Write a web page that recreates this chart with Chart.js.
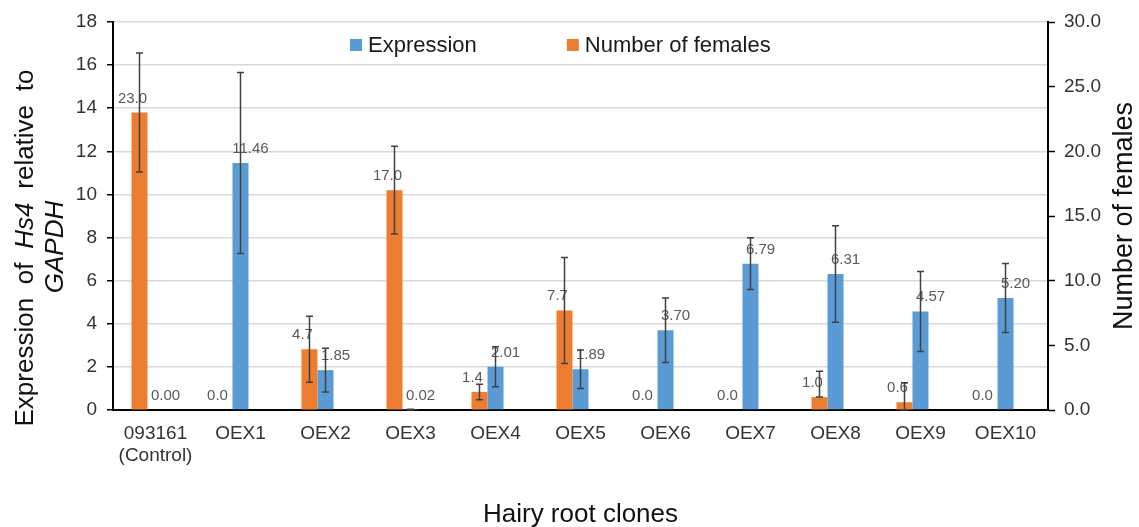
<!DOCTYPE html>
<html>
<head>
<meta charset="utf-8">
<title>Hs4 expression and number of females</title>
<script src="https://cdn.jsdelivr.net/npm/chart.js"></script>
<style>
    body { margin: 0; background: #fff; }
    #wrap { width: 1139px; height: 527px; }
</style>
</head>
<body>
<div id="wrap"><canvas id="myChart"></canvas></div>
<script>
// data
var clones = [['093161', '(Control)'], 'OEX1', 'OEX2', 'OEX3', 'OEX4', 'OEX5', 'OEX6', 'OEX7', 'OEX8', 'OEX9', 'OEX10'];
var expression = [0.00, 11.46, 1.85, 0.02, 2.01, 1.89, 3.70, 6.79, 6.31, 4.57, 5.20];
var expressionErr = [0, 4.2, 1.02, 0.02, 0.93, 0.89, 1.5, 1.2, 2.24, 1.86, 1.6];
var females = [23.0, 0.0, 4.7, 17.0, 1.4, 7.7, 0.0, 0.0, 1.0, 0.6, 0.0];
var femalesErrUp = [4.6, 0, 2.55, 3.4, 0.6, 4.1, 0, 0, 2.0, 1.5, 0];
var femalesErrDown = [4.6, 0, 2.55, 3.4, 0.6, 4.1, 0, 0, 0, 0.6, 0];
var exprAxisMax = 18, exprStep = 2;
var femAxisMax = 30, femStep = 5;

var FONT = "'Liberation Sans', Arial, sans-serif";
var BLUE = '#5B9BD5', ORANGE = '#ED7D31';

// labels, error bars, legend and the axis titles (left one has italics)
var extras = {
    id: 'extras',
    afterDatasetsDraw: function(chart) {
        var ctx = chart.ctx;
        ctx.save();
        [0, 1].forEach(function(di) {
            var ds = chart.data.datasets[di];
            var meta = chart.getDatasetMeta(di);
            var scale = chart.scales[ds.yAxisID];
            // value labels
            ctx.font = '15px ' + FONT;
            ctx.fillStyle = '#595959';
            ctx.textAlign = 'center';
            ctx.textBaseline = 'alphabetic';
            meta.data.forEach(function(bar, i) {
                var txt = ds.data[i].toFixed(ds.decimals);
                ctx.fillText(txt, bar.x + ds.labelShift, bar.y - 10);
            });
            // error bars
            ctx.strokeStyle = '#404040';
            ctx.lineWidth = 1.5;
            meta.data.forEach(function(bar, i) {
                var up = ds.errUp[i], down = ds.errDown[i];
                if (!up && !down) return;
                var y1 = scale.getPixelForValue(ds.data[i] + up);
                var y2 = scale.getPixelForValue(ds.data[i] - down);
                ctx.beginPath();
                ctx.moveTo(bar.x, y1); ctx.lineTo(bar.x, y2);
                ctx.moveTo(bar.x - 3.5, y1); ctx.lineTo(bar.x + 3.5, y1);
                ctx.moveTo(bar.x - 3.5, y2); ctx.lineTo(bar.x + 3.5, y2);
                ctx.stroke();
            });
        });
        ctx.restore();
    },
    afterDraw: function(chart) {
        var ctx = chart.ctx;
        var area = chart.chartArea;
        ctx.save();

        // legend inside the plot, Expression first
        ctx.font = '22px ' + FONT;
        ctx.textBaseline = 'middle';
        ctx.textAlign = 'left';
        var x = area.left + 237, y = 45;
        [1, 0].forEach(function(di) {
            var ds = chart.data.datasets[di];
            ctx.fillStyle = ds.backgroundColor;
            ctx.fillRect(x, y - 6, 12, 12);
            ctx.fillStyle = '#1a1a1a';
            ctx.fillText(ds.label, x + 18, y + 1);
            x += 18 + ctx.measureText(ds.label).width + 90;
        });

        ctx.fillStyle = '#111';
        ctx.textBaseline = 'alphabetic';

        // x title
        ctx.textAlign = 'center';
        ctx.font = '26px ' + FONT;
        ctx.fillText('Hairy root clones', (area.left + area.right) / 2, 522);

        // left title, two lines, spread like the original
        var parts = [['Expression', false], ['of', false], ['Hs4', true], ['relative', false], ['to', false]];
        var span = 357, total = 0;
        parts.forEach(function(p) {
            ctx.font = (p[1] ? 'italic ' : '') + '26px ' + FONT;
            p.push(ctx.measureText(p[0]).width);
            total += p[2];
        });
        var gap = (span - total) / (parts.length - 1);
        ctx.save();
        ctx.translate(33, 248);
        ctx.rotate(-Math.PI / 2);
        ctx.textAlign = 'left';
        var px = -span / 2;
        parts.forEach(function(p) {
            ctx.font = (p[1] ? 'italic ' : '') + '26px ' + FONT;
            ctx.fillText(p[0], px, 0);
            px += p[2] + gap;
        });
        ctx.restore();

        ctx.save();
        ctx.translate(63, 247);
        ctx.rotate(-Math.PI / 2);
        ctx.textAlign = 'center';
        ctx.font = 'italic 26px ' + FONT;
        ctx.fillText('GAPDH', 0, 0);
        ctx.restore();

        // right title
        ctx.save();
        ctx.translate(1132, (area.top + area.bottom) / 2);
        ctx.rotate(-Math.PI / 2);
        ctx.textAlign = 'center';
        ctx.font = '27px ' + FONT;
        ctx.fillText('Number of females', 0, 0);
        ctx.restore();

        ctx.restore();
    }
};

function noPad(s) {
    s.paddingTop = 0; s.paddingBottom = 0; s.paddingLeft = 0; s.paddingRight = 0;
}

var ctx = document.getElementById('myChart').getContext('2d');
var myChart = new Chart(ctx, {
    type: 'bar',
    data: {
        labels: clones,
        datasets: [{
            label: 'Number of females',
            data: females,
            yAxisID: 'y1',
            backgroundColor: ORANGE,
            errUp: femalesErrUp,
            errDown: femalesErrDown,
            decimals: 1,
            labelShift: -7
        }, {
            label: 'Expression',
            data: expression,
            yAxisID: 'y',
            backgroundColor: BLUE,
            errUp: expressionErr,
            errDown: expressionErr,
            decimals: 2,
            labelShift: 10
        }, {
            // empty slot so the blue bar sits on the category centre
            label: '',
            data: clones.map(function() { return null; }),
            yAxisID: 'y',
            backgroundColor: 'rgba(0,0,0,0)'
        }]
    },
    options: {
        responsive: true,
        maintainAspectRatio: false,
        animation: false,
        categoryPercentage: 0.565,
        barPercentage: 1,
        layout: { padding: { top: 22, left: 0, right: 0, bottom: 0 } },
        plugins: {
            legend: { display: false },
            tooltip: { enabled: false }
        },
        scales: {
            x: {
                grid: { display: false, drawTicks: false },
                border: { color: '#000', width: 2 },
                ticks: {
                    color: '#333',
                    font: { size: 19, family: FONT },
                    padding: 12,
                    maxRotation: 0,
                    autoSkip: false
                },
                afterFit: function(s) { s.height = 117; noPad(s); }
            },
            y: {
                position: 'left',
                min: 0,
                max: exprAxisMax,
                ticks: {
                    stepSize: exprStep,
                    color: '#333',
                    font: { size: 19, family: FONT },
                    padding: 10
                },
                grid: { color: '#d9d9d9', lineWidth: 1.5, tickColor: '#000', tickLength: 6, tickWidth: 1.5 },
                border: { color: '#000', width: 2 },
                afterFit: function(s) { s.width = 113; noPad(s); }
            },
            y1: {
                position: 'right',
                min: 0,
                max: femAxisMax,
                ticks: {
                    stepSize: femStep,
                    color: '#333',
                    font: { size: 19, family: FONT },
                    padding: 9,
                    callback: function(v) { return v.toFixed(1); }
                },
                grid: { drawOnChartArea: false, tickColor: '#000', tickLength: 7, tickWidth: 1.5 },
                border: { color: '#000', width: 2 },
                afterFit: function(s) { s.width = 91; noPad(s); }
            }
        }
    },
    plugins: [extras]
});
</script>
</body>
</html>
